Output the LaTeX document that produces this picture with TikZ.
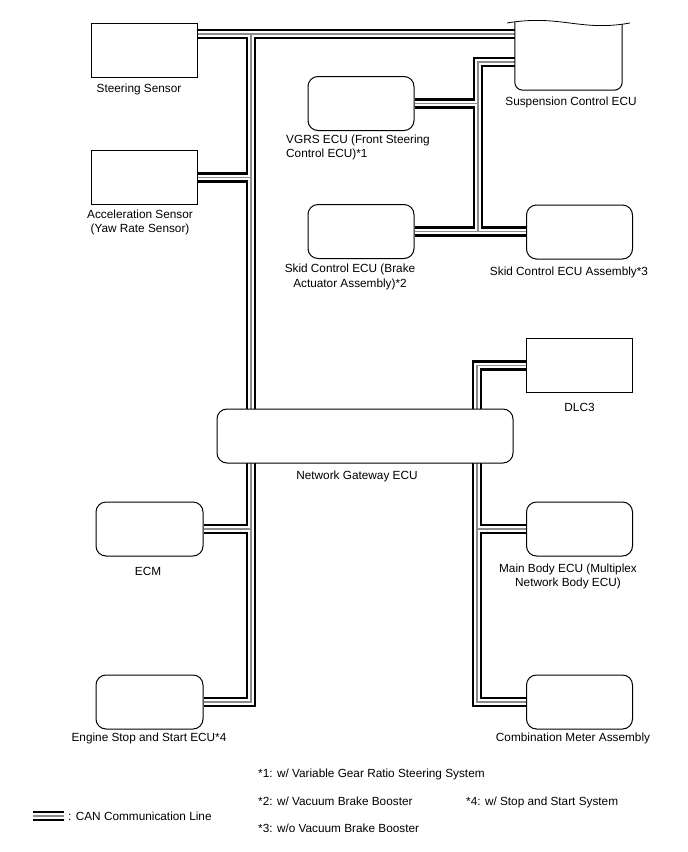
\documentclass[tikz,border=0pt]{standalone}
\usepackage{fontspec}
\setmainfont{Liberation Sans}
\usetikzlibrary{backgrounds,calc}
\begin{document}
\begin{tikzpicture}[x=1pt,y=-1pt,
  box/.style={draw,line width=1pt,fill=white,inner sep=0pt,minimum width=106pt,minimum height=54pt},
  rbox/.style={box,rounded corners=10pt},
  lbl/.style={font=\fontsize{11.8}{14}\selectfont,inner sep=0pt,anchor=base},
  lbll/.style={lbl,anchor=base west},
  busblack/.style={line width=10.5pt,black,line join=miter},
  buswhite/.style={line width=5.6pt,white,line join=miter},
  busgray/.style={line width=1.1pt,black!45,line join=miter}
]
\useasboundingbox (0,0) rectangle (688,852);

% boxes
\node[box] (ss) at (144.5,50.5) {};
\node[box] (acc) at (144.5,177.5) {};
\node[rbox] (vgrs) at (361,103.5) {};
\node[rbox] (skid) at (361,231.5) {};
\node[rbox] (skida) at (579.5,232) {};
\node[box] (dlc) at (579.5,365.5) {};
\node[rbox,minimum width=296pt] (gw) at (365,436) {};
\node[rbox,minimum width=107pt] (ecm) at (149.5,529) {};
\node[rbox,minimum width=107pt] (eng) at (149.5,702) {};
\node[rbox] (mb) at (579.5,529) {};
\node[rbox] (comb) at (579.5,702) {};
\node[inner sep=0pt,minimum width=107pt,minimum height=68pt] (sus) at (568.5,56) {};

% suspension control ECU outline (cut-off top)
\draw[line width=1pt,rounded corners=8pt] (sus.north west) -- (sus.south west) -- (sus.south east) -- ($(sus.north east)+(0,2.5)$);
\draw[line width=0.8pt] (507,23) .. controls (560,14) and (580,32) .. (630,23);

% junction coordinates
\coordinate (jt) at (251,34);
\coordinate (jr) at (478,62);
\coordinate (jd) at (477,365.5);
\coordinate (lg1) at (33,816);
\coordinate (lg2) at (64,816);

\newcommand{\busnet}[1]{%
  \draw[#1] (ss.east |- jt) -- (sus.west |- jt);
  \draw[#1] (jt) -- (jt |- eng.east) -- (eng.east);
  \draw[#1] (acc.east) -- (acc.east -| jt);
  \draw[#1] (ecm.east) -- (ecm.east -| jt);
  \draw[#1] (sus.west |- jr) -- (jr) -- (jr |- skid.east);
  \draw[#1] (vgrs.east) -- (vgrs.east -| jr);
  \draw[#1] (skid.east) -- (skid.east -| skida.west);
  \draw[#1] (dlc.west) -- (dlc.west -| jd) -- (jd |- comb.west) -- (comb.west);
  \draw[#1] (mb.west -| jd) -- (mb.west);
  \draw[#1] (lg1) -- (lg2);
}
\begin{pgfonlayer}{background}
\busnet{busblack}
\busnet{buswhite}
\busnet{busgray}
\end{pgfonlayer}

% labels
\node[lbl] (tss) at (139,92.5) {Steering Sensor};
\node[lbl] (tacc1) at (140,218.5) {Acceleration Sensor};
\node[lbl] (tacc2) at (140,232.5) {(Yaw Rate Sensor)};
\node[lbl] (tsus) at (571,105.5) {Suspension Control ECU};
\node[lbll] (tvg1) at (286,143.5) {VGRS ECU (Front Steering};
\node[lbll] (tvg2) at (286,157.5) {Control ECU)*1};
\node[lbl] (tsk1) at (350,272.5) {Skid Control ECU (Brake};
\node[lbl] (tsk2) at (350,287.5) {Actuator Assembly)*2};
\node[lbl] (tska) at (569,275) {Skid Control ECU Assembly*3};
\node[lbl] (tdlc) at (579.5,411.5) {DLC3};
\node[lbl] (tgw) at (357,479) {Network Gateway ECU};
\node[lbl] (tecm) at (148,575) {ECM};
\node[lbl] (tmb1) at (568,572.5) {Main Body ECU (Multiplex};
\node[lbl] (tmb2) at (568,586.5) {Network Body ECU)};
\node[lbl] (teng) at (149,741.5) {Engine Stop and Start ECU*4};
\node[lbl] (tcomb) at (573,741.5) {Combination Meter Assembly};

% legend and notes
\node[lbll] (tcan) at (68,820.5) {: CAN Communication Line};
\node[lbll] (n1) at (258,777.5) {*1: w/ Variable Gear Ratio Steering System};
\node[lbll] (n2) at (258,805.5) {*2: w/ Vacuum Brake Booster};
\node[lbll] (n4) at (466,805.5) {*4: w/ Stop and Start System};
\node[lbll] (n3) at (258,832.5) {*3: w/o Vacuum Brake Booster};
\end{tikzpicture}
\end{document}
